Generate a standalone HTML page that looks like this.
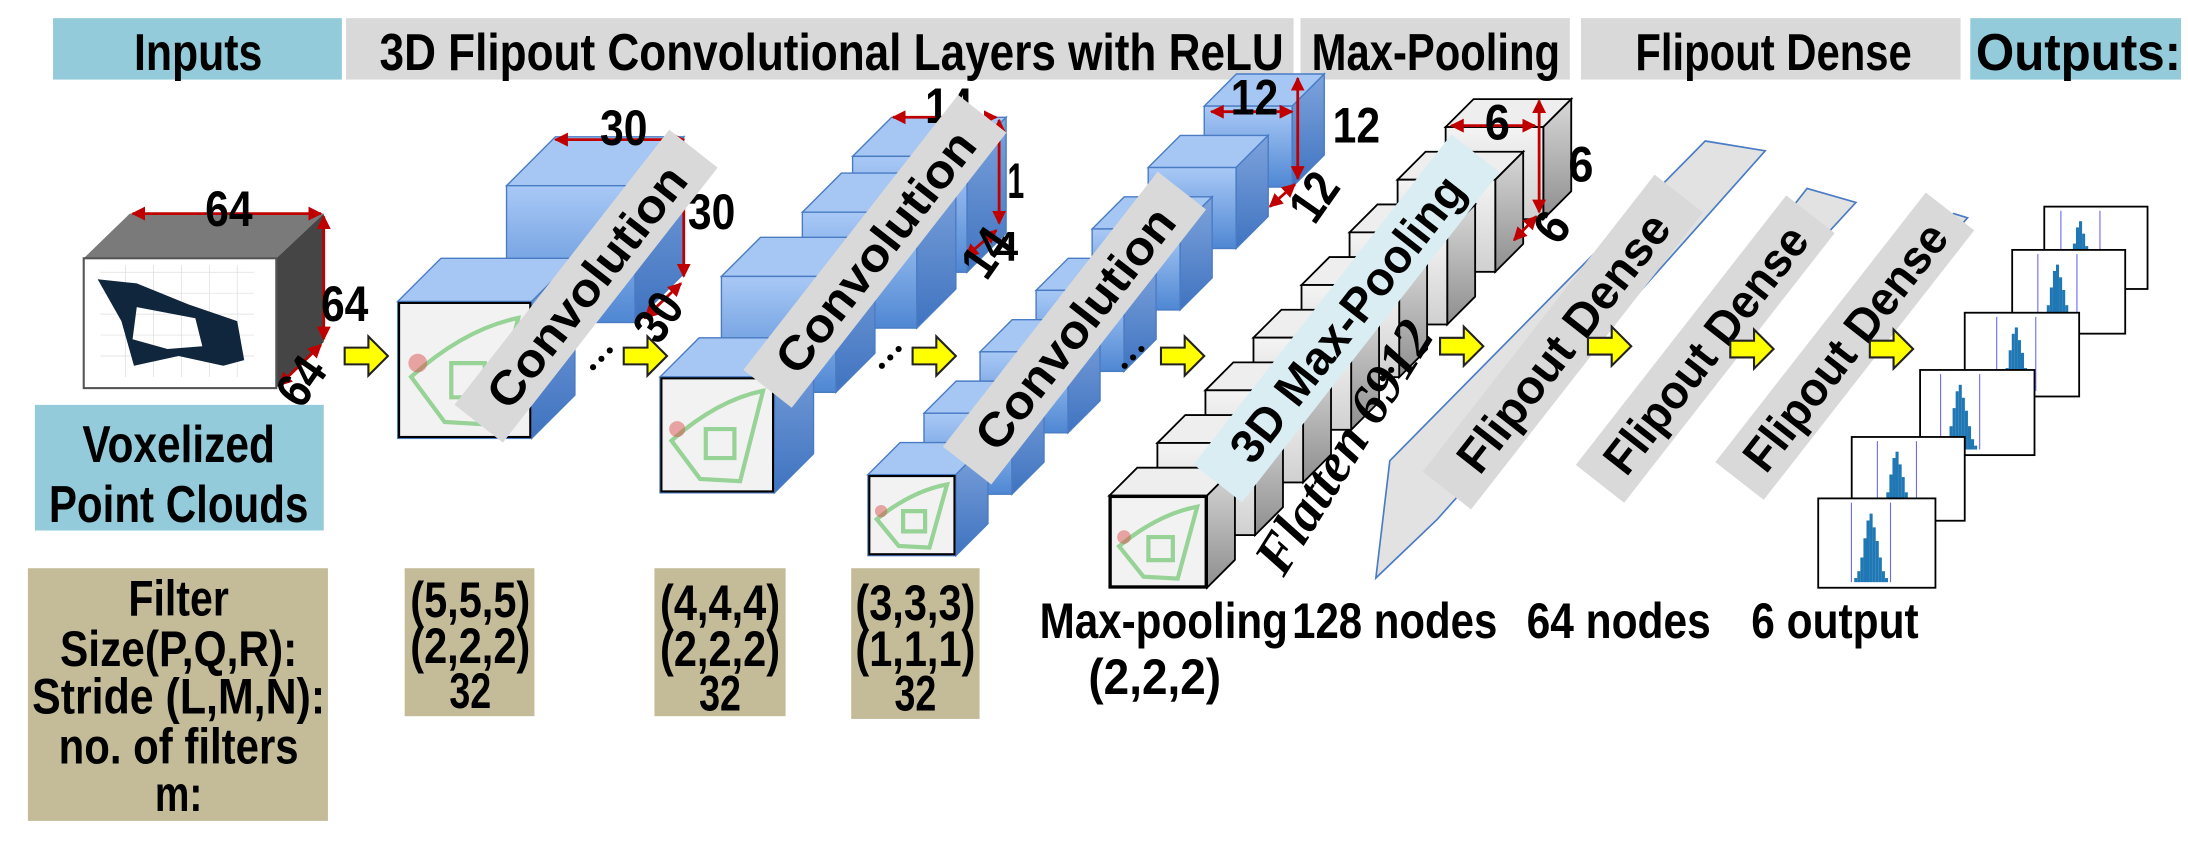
<!DOCTYPE html>
<html><head><meta charset="utf-8"><style>
html,body{margin:0;padding:0;background:#fff;overflow:hidden}
svg{display:block}
text{font-family:"Liberation Sans",sans-serif;font-weight:bold;fill:#000}
</style></head><body>
<svg id="s" width="2188" height="853" viewBox="0 0 1568 611" preserveAspectRatio="none" xmlns="http://www.w3.org/2000/svg">
<defs>
<linearGradient id="bf" x1="0" y1="0" x2="0" y2="1"><stop offset="0" stop-color="#a9c9f6"/><stop offset="1" stop-color="#4f87d3"/></linearGradient>
<linearGradient id="bs" x1="0" y1="0" x2="0" y2="1"><stop offset="0" stop-color="#7ea3dc"/><stop offset="1" stop-color="#3f73c0"/></linearGradient>
<linearGradient id="gf" x1="0" y1="0" x2="0" y2="1"><stop offset="0" stop-color="#f4f4f4"/><stop offset="1" stop-color="#d0d0d0"/></linearGradient>
<linearGradient id="gs" x1="0" y1="0" x2="0" y2="1"><stop offset="0" stop-color="#d8d8d8"/><stop offset="1" stop-color="#8e8e8e"/></linearGradient>
<marker id="ra" viewBox="0 0 10 10" refX="9" refY="5" markerWidth="5" markerHeight="5" orient="auto-start-reverse"><path d="M0,0L10,5L0,10z" fill="#c00000"/></marker>
</defs>
<!-- headers -->
<rect x="38" y="13" width="207" height="44" fill="#93cbdb"/>
<rect x="248" y="13" width="679" height="44" fill="#d9d9d9"/>
<rect x="932" y="13" width="193" height="44" fill="#d9d9d9"/>
<rect x="1133" y="13" width="272" height="44" fill="#d9d9d9"/>
<rect x="1412" y="13" width="151" height="44" fill="#93cbdb"/>
<g font-size="37">
<text x="96" y="50" textLength="92" lengthAdjust="spacingAndGlyphs">Inputs</text>
<text x="272" y="50" textLength="648" lengthAdjust="spacingAndGlyphs">3D Flipout Convolutional Layers with ReLU</text>
<text x="940" y="50" textLength="178" lengthAdjust="spacingAndGlyphs">Max-Pooling</text>
<text x="1172" y="50" textLength="198" lengthAdjust="spacingAndGlyphs">Flipout Dense</text>
<text x="1416" y="50" textLength="147" lengthAdjust="spacingAndGlyphs">Outputs:</text>
</g>

<rect x="25" y="290" width="207" height="90" fill="#93cbdb"/>
<text x="128" y="331" font-size="37" text-anchor="middle" textLength="138" lengthAdjust="spacingAndGlyphs">Voxelized</text>
<text x="128" y="374" font-size="37" text-anchor="middle" textLength="186" lengthAdjust="spacingAndGlyphs">Point Clouds</text>

<!-- input cube -->
<polygon points="60,185 93,153 232,153 198,185" fill="#7a7a7a"/>
<polygon points="198,185 232,153 232,245 198,278" fill="#454545"/>
<rect x="60" y="185" width="138" height="93" fill="#fff" stroke="#555" stroke-width="1.5"/>
<g stroke="#ddd" stroke-width="0.5" fill="none"><path d="M72,195h110M72,210h110M72,225h110M72,240h110M72,255h110M90,190v80M110,190v80M130,190v80M150,190v80M170,190v80"/></g>
<path d="M70,200 L98,203 L135,218 L170,230 L175,258 L160,262 L128,255 L96,262 L87,230 Z M98,220 L95,243 L120,250 L145,248 L140,228 Z" fill="#10263c" fill-rule="evenodd"/>
<line x1="95" y1="153" x2="230" y2="153" stroke="#c00000" stroke-width="2" marker-start="url(#ra)" marker-end="url(#ra)"/>
<line x1="232" y1="155" x2="232" y2="243" stroke="#c00000" stroke-width="2" marker-start="url(#ra)" marker-end="url(#ra)"/>
<line x1="230" y1="247" x2="200" y2="276" stroke="#c00000" stroke-width="2" marker-start="url(#ra)" marker-end="url(#ra)"/>
<text x="147" y="162" font-size="36" textLength="34" lengthAdjust="spacingAndGlyphs">64</text>
<text x="230" y="230" font-size="36" textLength="34" lengthAdjust="spacingAndGlyphs">64</text>
<text transform="translate(216,294) rotate(-55)" font-size="36" textLength="34" lengthAdjust="spacingAndGlyphs">64</text>

<!-- tan boxes -->
<rect x="20" y="407" width="215" height="181" fill="#c4bc99"/>
<g font-size="36" text-anchor="middle">
<text x="128" y="441" textLength="72" lengthAdjust="spacingAndGlyphs">Filter</text>
<text x="128" y="477" textLength="170" lengthAdjust="spacingAndGlyphs">Size(P,Q,R):</text>
<text x="128" y="511" textLength="210" lengthAdjust="spacingAndGlyphs">Stride (L,M,N):</text>
<text x="128" y="547" textLength="172" lengthAdjust="spacingAndGlyphs">no. of filters</text>
<text x="128" y="581" textLength="34" lengthAdjust="spacingAndGlyphs">m:</text>
</g>
<rect x="290" y="407" width="93" height="106" fill="#c4bc99"/>
<rect x="469" y="407" width="94" height="106" fill="#c4bc99"/>
<rect x="610" y="407" width="92" height="108" fill="#c4bc99"/>
<g font-size="36" text-anchor="middle">
<text x="337" y="442" textLength="86" lengthAdjust="spacingAndGlyphs">(5,5,5)</text>
<text x="337" y="475" textLength="86" lengthAdjust="spacingAndGlyphs">(2,2,2)</text>
<text x="337" y="507" textLength="30" lengthAdjust="spacingAndGlyphs">32</text>
<text x="516" y="444" textLength="86" lengthAdjust="spacingAndGlyphs">(4,4,4)</text>
<text x="516" y="477" textLength="86" lengthAdjust="spacingAndGlyphs">(2,2,2)</text>
<text x="516" y="509" textLength="30" lengthAdjust="spacingAndGlyphs">32</text>
<text x="656" y="444" textLength="86" lengthAdjust="spacingAndGlyphs">(3,3,3)</text>
<text x="656" y="477" textLength="86" lengthAdjust="spacingAndGlyphs">(1,1,1)</text>
<text x="656" y="509" textLength="30" lengthAdjust="spacingAndGlyphs">32</text>
</g>
<g font-size="36">
<text x="745" y="457" textLength="178" lengthAdjust="spacingAndGlyphs">Max-pooling</text>
<text x="780" y="497" textLength="95" lengthAdjust="spacingAndGlyphs">(2,2,2)</text>
<text x="926" y="457" textLength="147" lengthAdjust="spacingAndGlyphs">128 nodes</text>
<text x="1094" y="457" textLength="132" lengthAdjust="spacingAndGlyphs">64 nodes</text>
<text x="1255" y="457" textLength="120" lengthAdjust="spacingAndGlyphs">6 output</text>
</g>
<g id="dyn"></g>
</svg>
<script>
var NS="http://www.w3.org/2000/svg",g=document.getElementById("dyn");
function el(t,a,txt){var e=document.createElementNS(NS,t);for(var k in a)e.setAttribute(k,a[k]);if(txt)e.textContent=txt;g.appendChild(e);return e;}
function cube(x,y,w,h,d,blue,img){
 var st=blue?"#4a7cc4":"#000",sw=blue?1:1.3;
 el("polygon",{points:[x,y,x+d,y-d,x+w+d,y-d,x+w,y].join(","),fill:blue?"#a6c6f4":"#eeeeee",stroke:st,"stroke-width":sw});
 el("polygon",{points:[x+w,y,x+w+d,y-d,x+w+d,y+h-d,x+w,y+h].join(","),fill:blue?"url(#bs)":"url(#gs)",stroke:st,"stroke-width":sw});
 el("rect",{x:x,y:y,width:w,height:h,fill:blue?"url(#bf)":"url(#gf)",stroke:st,"stroke-width":sw});
 if(img){
  el("rect",{x:x+1,y:y+1,width:w-2,height:h-2,fill:"#f2f2f2",stroke:"#000","stroke-width":1.5});
  el("path",{d:"M"+(x+w*0.1)+","+(y+h*0.55)+" Q"+(x+w*0.5)+","+(y+h*0.2)+" "+(x+w*0.9)+","+(y+h*0.12)+" L"+(x+w*0.7)+","+(y+h*0.9)+" L"+(x+w*0.35)+","+(y+h*0.88)+" Z M"+(x+w*0.4)+","+(y+h*0.45)+" h"+(w*0.25)+" v"+(h*0.25)+" h-"+(w*0.25)+"z",fill:"none",stroke:"#7fc97f","stroke-width":3,opacity:0.8});
  el("circle",{cx:x+w*0.15,cy:y+h*0.45,r:w*0.07,fill:"#d9534f",opacity:0.5});
 }
}
function band(cx,cy,ang,len,th,col,txt,fs,tl){
 var gg=el("g",{transform:"translate("+cx+","+cy+") rotate("+ang+")"});
 var r=document.createElementNS(NS,"rect");r.setAttribute("x",-len/2);r.setAttribute("y",-th/2);r.setAttribute("width",len);r.setAttribute("height",th);r.setAttribute("fill",col);gg.appendChild(r);
 var t=document.createElementNS(NS,"text");t.setAttribute("x",0);t.setAttribute("y",fs*0.36);t.setAttribute("text-anchor","middle");t.setAttribute("font-size",fs);if(tl){t.setAttribute("textLength",tl);t.setAttribute("lengthAdjust","spacingAndGlyphs");}t.textContent=txt;gg.appendChild(t);
}
function arr(x,y){
 el("polygon",{points:[x,y-6,x+17,y-6,x+17,y-14,x+31,y,x+17,y+14,x+17,y+6,x,y+6].join(","),fill:"#ffff00",stroke:"#222","stroke-width":1.5});
}
function dim(x1,y1,x2,y2){el("line",{x1:x1,y1:y1,x2:x2,y2:y2,stroke:"#c00000","stroke-width":2,"marker-start":"url(#ra)","marker-end":"url(#ra)"});}
function T(x,y,s,fs,rot,tl){var a={x:x,y:y,"font-size":fs||36};if(rot)a.transform="rotate("+rot+" "+x+" "+y+")";if(tl){a.textLength=tl;a.lengthAdjust="spacingAndGlyphs";}el("text",a,s);}
function dots(x,y){for(var i=0;i<3;i++)el("circle",{cx:x+i*6,cy:y-i*6,r:2.2,fill:"#000"});}

// block 1
cube(363,133,92,98,35,true);
cube(285,216,96,98,31,true,true);
dim(398,100,490,100); dim(490,103,490,198); dim(488,203,462,228);
T(430,104,"30",36,0,34); T(493,164,"30",36,0,34); T(472,248,"30",36,-55,34);
band(420,205,-52,250,44,"#d9d9d9","Convolution",34,210);
arr(247,255); dots(425,263); arr(447,255);

// block 2
var b2=[[611,112],[575,152],[517,198],[473,270]];
b2.forEach(function(p,i){cube(p[0],p[1],82,83,28,true,i==3);});
dim(640,84,714,84); dim(716,86,716,160); dim(714,165,692,184);
T(663,88,"14",36,0,34); T(722,142,"1",36,0,12); T(707,202,"14",36,-55,34); T(713,187,"4",30);
band(627,180,-52,250,44,"#d9d9d9","Convolution",34,210);
dots(632,262); arr(654,255);

// block 3
var n=7;for(var i=n-1;i>=0;i--){var t=i/(n-1);cube(622+t*(863-622),340-t*(340-76),63,58,23,true,i==0);}
dim(868,80,926,80); dim(930,56,930,128); dim(928,132,910,148);
T(882,82,"12",36,0,34); T(955,102,"12",36,0,34); T(942,162,"12",36,-55,34);
band(770,235,-52,250,44,"#d9d9d9","Convolution",34,210);
dots(806,262); arr(832,255);

// pooling block
var m=8;for(var i=m-1;i>=0;i--){var t=i/(m-1);cube(795+t*(1036-795),355-t*(355-91),70,66,20,false,i==0);}
dim(1040,90,1100,90); dim(1103,72,1103,152); dim(1101,155,1085,172);
T(1064,100,"6",36,0,18); T(1124,130,"6",36,0,18); T(1117,177,"6",36,-55,18);
band(965,228,-52,300,44,"#daedf3","3D Max-Pooling",34,250);
dots(985,277);
arr(1032,248);

// dense shapes
el("polygon",{points:"1222,101 1265,108 1030,372 986,414 996,330",fill:"#e2e2e2",stroke:"#4a7cc4","stroke-width":1.2});
band(1120,245,-52,270,44,"#d9d9d9","Flipout Dense",34,225);
arr(1138,248);
el("polygon",{points:"1295,135 1330,145 1160,330 1150,320",fill:"#e2e2e2",stroke:"#4a7cc4","stroke-width":1.2});
band(1222,250,-52,245,44,"#d9d9d9","Flipout Dense",34,215);
arr(1240,250);
el("polygon",{points:"1400,153 1410,156 1260,330 1255,320",fill:"#e2e2e2",stroke:"#4a7cc4","stroke-width":1.2});
band(1322,248,-52,245,44,"#d9d9d9","Flipout Dense",34,215);
arr(1340,250);

el("text",{x:0,y:0,"font-size":40,transform:"translate(920,414) rotate(-58)","textLength":205,"lengthAdjust":"spacingAndGlyphs",style:"font-family:'Liberation Serif',serif;font-style:italic;font-weight:bold"},"Flatten 6912");

// histograms
var H=[[1465,148,74,59],[1442,179,81,60],[1408,224,82,60],[1376,265,82,61],[1327,313,81,60],[1303,357,84,64]];
H.forEach(function(h,i){
 el("rect",{x:h[0],y:h[1],width:h[2],height:h[3],fill:"#fff",stroke:"#000","stroke-width":1.3});
 var cx=h[0]+h[2]*(0.35+0.05*(i%3)),bw=2.2,base=h[1]+h[3]-4;
 var hs=[3,8,18,32,45,50,40,30,18,8,3];
 for(var k=0;k<hs.length;k++){var hh=hs[k]*(h[3]-10)/55;el("rect",{x:cx-12+k*bw,y:base-hh,width:bw,height:hh,fill:"#1f77b4"});}
 el("line",{x1:cx-14,y1:h[1]+3,x2:cx-14,y2:base,stroke:"#6a6aff","stroke-width":0.8});
 el("line",{x1:cx+14,y1:h[1]+3,x2:cx+14,y2:base,stroke:"#6a6aff","stroke-width":0.8});
});
</script>
</body></html>
